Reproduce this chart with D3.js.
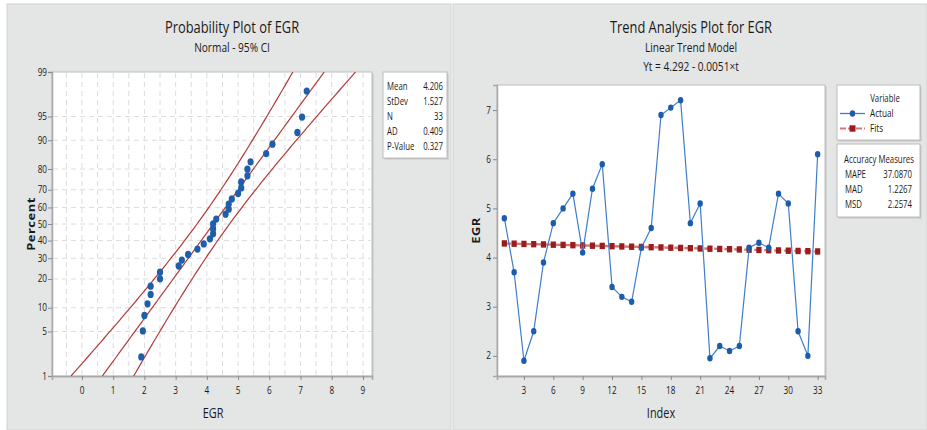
<!DOCTYPE html>
<html>
<head>
<meta charset="utf-8">
<script src="https://cdn.jsdelivr.net/npm/d3@7"></script>
<style>
  html, body { margin: 0; padding: 0; background: #ffffff; }
  svg { display: block; }
  text { font-family: "Open Sans", "Noto Sans", sans-serif; fill: #1a1a1a; }
</style>
</head>
<body>
<svg id="chart" width="927" height="430"></svg>
<script>
// EGR observations in time order (index 1..33)
const egr = [4.8, 3.7, 1.9, 2.5, 3.9, 4.7, 5.0, 5.3, 4.1, 5.4, 5.9, 3.4, 3.2, 3.1, 4.2, 4.6,
             6.9, 7.05, 7.2, 4.7, 5.1, 1.95, 2.2, 2.1, 2.2, 4.2, 4.3, 4.2, 5.3, 5.1, 2.5, 2.0, 6.1];

// Summary statistics shown in the probability plot table
const statLabels = ["Mean", "StDev", "N", "AD", "P-Value"];
const statValues = ["4.206", "1.527", "33", "0.409", "0.327"];
const fitMean = 4.206, fitSd = 1.527, ciLevel = 0.95;

// Probability plot axes
const percentTicks = [1, 5, 10, 20, 30, 40, 50, 60, 70, 80, 90, 95, 99];
const egrTicks = [0, 1, 2, 3, 4, 5, 6, 7, 8, 9];

// Linear trend model Yt = b0 + b1*t
const trendIntercept = 4.292, trendSlope = -0.0051;
const indexTicks = [3, 6, 9, 12, 15, 18, 21, 24, 27, 30, 33];
const egrTrendTicks = [2, 3, 4, 5, 6, 7];

// Accuracy measures table
const accLabels = ["MAPE", "MAD", "MSD"];
const accValues = ["37.0870", "1.2267", "2.2574"];

const SX = 0.78; // horizontal text compression
const svg = d3.select("#chart");

function label(g, x, y, s, o = {}) {
  const t = g.append("text")
    .attr("transform", `translate(${x},${y}) scale(${SX},1)` + (o.rotate ? ` rotate(${o.rotate})` : ""))
    .attr("text-anchor", o.anchor || "start")
    .style("font-size", (o.size || 10) + "px")
    .text(s);
  if (o.weight) t.style("font-weight", o.weight);
  if (o.fill) t.style("fill", o.fill);
  if (o.spacing) t.style("letter-spacing", o.spacing);
  return t;
}

// inverse standard normal CDF (Acklam)
function qnorm(p) {
  const a = [-3.969683028665376e+01, 2.209460984245205e+02, -2.759285104469687e+02, 1.383577518672690e+02, -3.066479806614716e+01, 2.506628277459239e+00];
  const b = [-5.447609879822406e+01, 1.615858368580409e+02, -1.556989798598866e+02, 6.680131188771972e+01, -1.328068155288572e+01];
  const c = [-7.784894002430293e-03, -3.223964580411365e-01, -2.400758277161838e+00, -2.549671010115962e+00, 4.374664141464968e+00, 2.938163982698783e+00];
  const d = [7.784695709041462e-03, 3.224671290700398e-01, 2.445134137142996e+00, 3.754408661907416e+00];
  const pl = 0.02425;
  let q, r;
  if (p < pl) {
    q = Math.sqrt(-2 * Math.log(p));
    return (((((c[0]*q+c[1])*q+c[2])*q+c[3])*q+c[4])*q+c[5]) / ((((d[0]*q+d[1])*q+d[2])*q+d[3])*q+1);
  } else if (p <= 1 - pl) {
    q = p - 0.5; r = q * q;
    return (((((a[0]*r+a[1])*r+a[2])*r+a[3])*r+a[4])*r+a[5])*q / (((((b[0]*r+b[1])*r+b[2])*r+b[3])*r+b[4])*r+1);
  } else {
    q = Math.sqrt(-2 * Math.log(1 - p));
    return -(((((c[0]*q+c[1])*q+c[2])*q+c[3])*q+c[4])*q+c[5]) / ((((d[0]*q+d[1])*q+d[2])*q+d[3])*q+1);
  }
}

// ---------- panels ----------
svg.append("rect").attr("x", 7).attr("y", 4).attr("width", 444).attr("height", 426)
  .attr("fill", "#e4e5e5").attr("stroke", "#d2d2d2").attr("stroke-width", 1);
svg.append("rect").attr("x", 453).attr("y", 4).attr("width", 474).attr("height", 426)
  .attr("fill", "#e4e5e5").attr("stroke", "#d2d2d2").attr("stroke-width", 1);

function boxWithShadow(g, x, y, w, h) {
  g.append("rect").attr("x", x + 1.5).attr("y", y + 1.5).attr("width", w).attr("height", h).attr("fill", "#c4c4c4");
  g.append("rect").attr("x", x).attr("y", y).attr("width", w).attr("height", h)
    .attr("fill", "#ffffff").attr("stroke", "#bdbdbd").attr("stroke-width", 1);
}

// ---------- probability plot ----------
const L = { x0: 52, x1: 372, y0: 72, y1: 376 };
const gl = svg.append("g");
const zMax = qnorm(0.99);
const px = d3.scaleLinear().domain([-0.96, 9.29]).range([L.x0, L.x1]);
const pz = d3.scaleLinear().domain([-zMax, zMax]).range([L.y1, L.y0]);

label(gl, 232, 33, "Probability Plot of EGR", { size: 16.5, anchor: "middle" });
label(gl, 232, 52, "Normal - 95% CI", { size: 13, anchor: "middle" });

boxWithShadow(gl, L.x0, L.y0, L.x1 - L.x0, L.y1 - L.y0);

const grid = gl.append("g").attr("stroke", "#dcdcdc").attr("stroke-width", 1).attr("stroke-dasharray", "5,4");
d3.range(-0.5, 9.01, 0.5).forEach(v => {
  grid.append("line").attr("x1", px(v)).attr("x2", px(v)).attr("y1", L.y0 + 1).attr("y2", L.y1 - 1);
});
percentTicks.slice(1, -1).forEach(p => {
  grid.append("line").attr("x1", L.x0 + 1).attr("x2", L.x1 - 1).attr("y1", pz(qnorm(p / 100))).attr("y2", pz(qnorm(p / 100)));
});

// y axis (percent on normal scale)
const yAxisL = d3.axisLeft(pz).tickValues(percentTicks.map(p => qnorm(p / 100))).tickSize(4).tickFormat("");
gl.append("g").attr("transform", `translate(${L.x0},0)`).call(yAxisL)
  .call(a => a.select(".domain").attr("stroke", "#a8a8a8").attr("stroke-width", 1.5))
  .call(a => a.selectAll(".tick line").attr("stroke", "#8a8a8a"));
percentTicks.forEach(p => label(gl, L.x0 - 5, pz(qnorm(p / 100)) + 3.5, String(p), { size: 10.5, anchor: "end" }));

const xAxisL = d3.axisBottom(px).tickValues(egrTicks).tickSize(4).tickFormat("");
gl.append("g").attr("transform", `translate(0,${L.y1})`).call(xAxisL)
  .call(a => a.select(".domain").attr("stroke", "#a8a8a8").attr("stroke-width", 1.5))
  .call(a => a.selectAll(".tick line").attr("stroke", "#8a8a8a"));
egrTicks.forEach(v => label(gl, px(v), 393.5, String(v), { size: 10.5, anchor: "middle" }));

label(gl, 213, 418, "EGR", { size: 14, anchor: "middle" });
label(gl, 35, 224, "Percent", { size: 13, anchor: "middle", rotate: -90, weight: "bold", spacing: "0.5px" });

// fitted normal line and 95% confidence bounds for percentiles
const n = egr.length;
const zc = qnorm(1 - (1 - ciLevel) / 2);
const zs = d3.range(-zMax, zMax + 1e-9, zMax / 60);
const se = z => fitSd * Math.sqrt((1 + z * z / 2) / n);
const lineZ = d3.line().x(d => px(d.x)).y(d => pz(d.z));
const clipL = gl.append("clipPath").attr("id", "clipL").append("rect")
  .attr("x", L.x0).attr("y", L.y0).attr("width", L.x1 - L.x0).attr("height", L.y1 - L.y0);
const fitG = gl.append("g").attr("clip-path", "url(#clipL)").attr("fill", "none")
  .attr("stroke", "#b23a3a").attr("stroke-width", 1.2);
fitG.append("path").attr("d", lineZ(zs.map(z => ({ z, x: fitMean + z * fitSd }))));
fitG.append("path").attr("d", lineZ(zs.map(z => ({ z, x: fitMean + z * fitSd - zc * se(z) }))));
fitG.append("path").attr("d", lineZ(zs.map(z => ({ z, x: fitMean + z * fitSd + zc * se(z) }))));

// data points at median-rank plotting positions
const sorted = egr.slice().sort(d3.ascending);
gl.append("g").selectAll("ellipse").data(sorted).join("ellipse")
  .attr("cx", d => px(d))
  .attr("cy", (d, i) => pz(qnorm((i + 1 - 0.3) / (n + 0.4))))
  .attr("rx", 3.1).attr("ry", 3.7)
  .attr("fill", "#1f5eab");

// statistics table
boxWithShadow(gl, 383, 72, 64, 86);
statLabels.forEach((s, i) => {
  label(gl, 387, 89.5 + i * 15.2, s, { size: 10 });
  label(gl, 443, 89.5 + i * 15.2, statValues[i], { size: 10, anchor: "end" });
});

// ---------- trend analysis plot ----------
const R = { x0: 497, x1: 825, y0: 85, y1: 376 };
const gr = svg.append("g");
const tx = d3.scaleLinear().domain([0.25, 33.75]).range([R.x0, R.x1]);
const ty = d3.scaleLinear().domain([1.59, 7.51]).range([R.y1, R.y0]);

label(gr, 691, 33, "Trend Analysis Plot for EGR", { size: 16.5, anchor: "middle" });
label(gr, 691, 52, "Linear Trend Model", { size: 13, anchor: "middle" });
label(gr, 691, 71, "Yt = 4.292 - 0.0051×t", { size: 13, anchor: "middle" });

boxWithShadow(gr, R.x0, R.y0, R.x1 - R.x0, R.y1 - R.y0);

gr.append("g").attr("transform", `translate(${R.x0},0)`)
  .call(d3.axisLeft(ty).tickValues(egrTrendTicks).tickSize(4).tickFormat(""))
  .call(a => a.select(".domain").attr("stroke", "#a8a8a8").attr("stroke-width", 1.5))
  .call(a => a.selectAll(".tick line").attr("stroke", "#8a8a8a"));
egrTrendTicks.forEach(v => label(gr, R.x0 - 6, ty(v) + 3.5, String(v), { size: 10.5, anchor: "end" }));

gr.append("g").attr("transform", `translate(0,${R.y1})`)
  .call(d3.axisBottom(tx).tickValues(indexTicks).tickSize(4).tickFormat(""))
  .call(a => a.select(".domain").attr("stroke", "#a8a8a8").attr("stroke-width", 1.5))
  .call(a => a.selectAll(".tick line").attr("stroke", "#8a8a8a"));
indexTicks.forEach(v => label(gr, tx(v), 394, String(v), { size: 10.5, anchor: "middle" }));

label(gr, 661, 418, "Index", { size: 14, anchor: "middle" });
label(gr, 480, 230.5, "EGR", { size: 13, anchor: "middle", rotate: -90, weight: "bold", spacing: "0.5px" });

// fitted trend
const idx = d3.range(1, egr.length + 1);
const fits = idx.map(t => ({ t, v: trendIntercept + trendSlope * t }));
const lineT = d3.line().x(d => tx(d.t)).y(d => ty(d.v));
gr.append("path").attr("d", lineT(fits)).attr("fill", "none")
  .attr("stroke", "#d27a7a").attr("stroke-width", 2.4).attr("stroke-dasharray", "7,3");
gr.append("g").selectAll("rect").data(fits).join("rect")
  .attr("x", d => tx(d.t) - 2.6).attr("y", d => ty(d.v) - 3.2)
  .attr("width", 5.2).attr("height", 6.4).attr("fill", "#9b1c1c");

// actual series
const actual = idx.map((t, i) => ({ t, v: egr[i] }));
gr.append("path").attr("d", lineT(actual)).attr("fill", "none")
  .attr("stroke", "#3f7ecb").attr("stroke-width", 1.2);
gr.append("g").selectAll("ellipse").data(actual).join("ellipse")
  .attr("cx", d => tx(d.t)).attr("cy", d => ty(d.v))
  .attr("rx", 2.7).attr("ry", 3.2).attr("fill", "#1b5cad");

// legend
boxWithShadow(gr, 837, 85, 83, 55);
label(gr, 885, 101.5, "Variable", { size: 10, anchor: "middle" });
gr.append("line").attr("x1", 840).attr("x2", 865).attr("y1", 113.5).attr("y2", 113.5)
  .attr("stroke", "#3f7ecb").attr("stroke-width", 1.3);
gr.append("ellipse").attr("cx", 852.5).attr("cy", 113.5).attr("rx", 2.7).attr("ry", 3.2).attr("fill", "#1b5cad");
label(gr, 870, 117, "Actual", { size: 10.5 });
gr.append("line").attr("x1", 840).attr("x2", 865).attr("y1", 128.5).attr("y2", 128.5)
  .attr("stroke", "#d27a7a").attr("stroke-width", 2).attr("stroke-dasharray", "6,2");
gr.append("rect").attr("x", 849.5).attr("y", 125.3).attr("width", 6).attr("height", 6.4).attr("fill", "#9b1c1c");
label(gr, 870, 132, "Fits", { size: 10.5 });

// accuracy measures
boxWithShadow(gr, 837, 144, 83, 73);
label(gr, 879, 162.5, "Accuracy Measures", { size: 10, anchor: "middle" });
accLabels.forEach((s, i) => {
  label(gr, 845, 177.5 + i * 15, s, { size: 10 });
  label(gr, 912, 177.5 + i * 15, accValues[i], { size: 10, anchor: "end" });
});
</script>
</body>
</html>
